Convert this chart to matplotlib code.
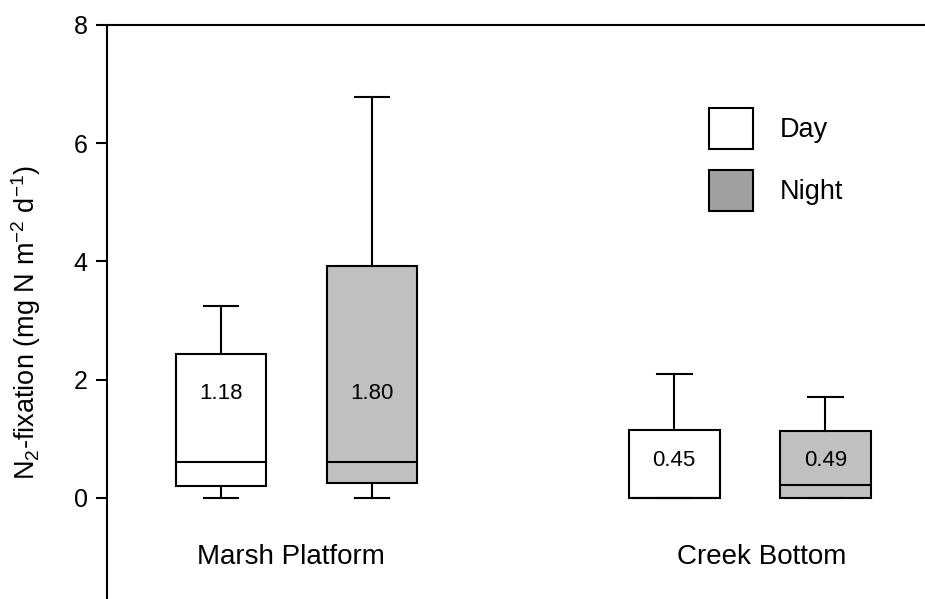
import matplotlib
matplotlib.use("Agg")
import matplotlib.pyplot as plt
from matplotlib.patches import Patch

plt.rcParams['font.family'] = ['Liberation Sans', 'DejaVu Sans']
plt.rcParams['mathtext.fontset'] = 'custom'
plt.rcParams['mathtext.rm'] = 'Liberation Sans'
plt.rcParams['mathtext.it'] = 'Liberation Sans'

# box summaries: day/night at two marsh sites
sites = ["Marsh Platform", "Creek Bottom"]
periods = ["Day", "Night"]
positions = [1, 2, 4, 5]
whislo = [0.0, 0.0, 0.0, 0.0]
q1 = [0.21, 0.25, 0.0, 0.0]
med = [0.60, 0.61, 0.0, 0.22]
q3 = [2.44, 3.93, 1.15, 1.13]
whishi = [3.24, 6.79, 2.10, 1.70]
means = ["1.18", "1.80", "0.45", "0.49"]
mean_y = [1.76, 1.76, 0.63, 0.63]
box_fill = ["white", "#c0c0c0", "white", "#c0c0c0"]

fig = plt.figure(figsize=(9.25, 5.99), dpi=100)
ax = fig.add_axes([107 / 925, 0, 1 - 107 / 925, 1 - 25 / 599])

stats = []
for i in range(len(positions)):
    stats.append(dict(whislo=whislo[i], q1=q1[i], med=med[i], q3=q3[i],
                      whishi=whishi[i], fliers=[]))

lw = 1.5
bp = ax.bxp(stats, positions=positions, widths=0.6, capwidths=0.23,
            patch_artist=True, showfliers=False, manage_ticks=False,
            boxprops=dict(linewidth=lw, edgecolor='black'),
            whiskerprops=dict(linewidth=lw, color='black'),
            capprops=dict(linewidth=lw, color='black'),
            medianprops=dict(linewidth=lw, color='black'))
for patch, fc in zip(bp['boxes'], box_fill):
    patch.set_facecolor(fc)

for x, y, s in zip(positions, mean_y, means):
    ax.text(x, y, s, ha='center', va='center', fontsize=16)

ax.text(1.46, -1.0, sites[0], ha='center', va='center', fontsize=20)
ax.text(4.58, -1.0, sites[1], ha='center', va='center', fontsize=20)

ax.set_xlim(0.245, 5.66)
ax.set_ylim(-1.71, 8)
ax.set_yticks([0, 2, 4, 6, 8])
ax.set_xticks([])
ax.tick_params(axis='y', direction='out', length=8, width=lw, labelsize=18, pad=6)
ax.spines['right'].set_visible(False)
ax.spines['bottom'].set_visible(False)
ax.spines['left'].set_linewidth(lw)
ax.spines['top'].set_linewidth(lw)
ax.set_ylabel(r'N$_2$-fixation (mg N m$^{-2}$ d$^{-1}$)', fontsize=19.5)
ax.yaxis.set_label_coords(-0.078, 0.481)

handles = [Patch(facecolor='white', edgecolor='black', linewidth=lw),
           Patch(facecolor='#a0a0a0', edgecolor='black', linewidth=lw)]
ax.legend(handles, periods, loc='upper left', bbox_to_anchor=(709 / 925, 1 - 108 / 599),
          bbox_transform=fig.transFigure, frameon=False, fontsize=19.5,
          handlelength=1.62, handleheight=1.98, labelspacing=0.74,
          handletextpad=1.0, borderpad=0, borderaxespad=0)

fig.savefig("out.png", dpi=100)
